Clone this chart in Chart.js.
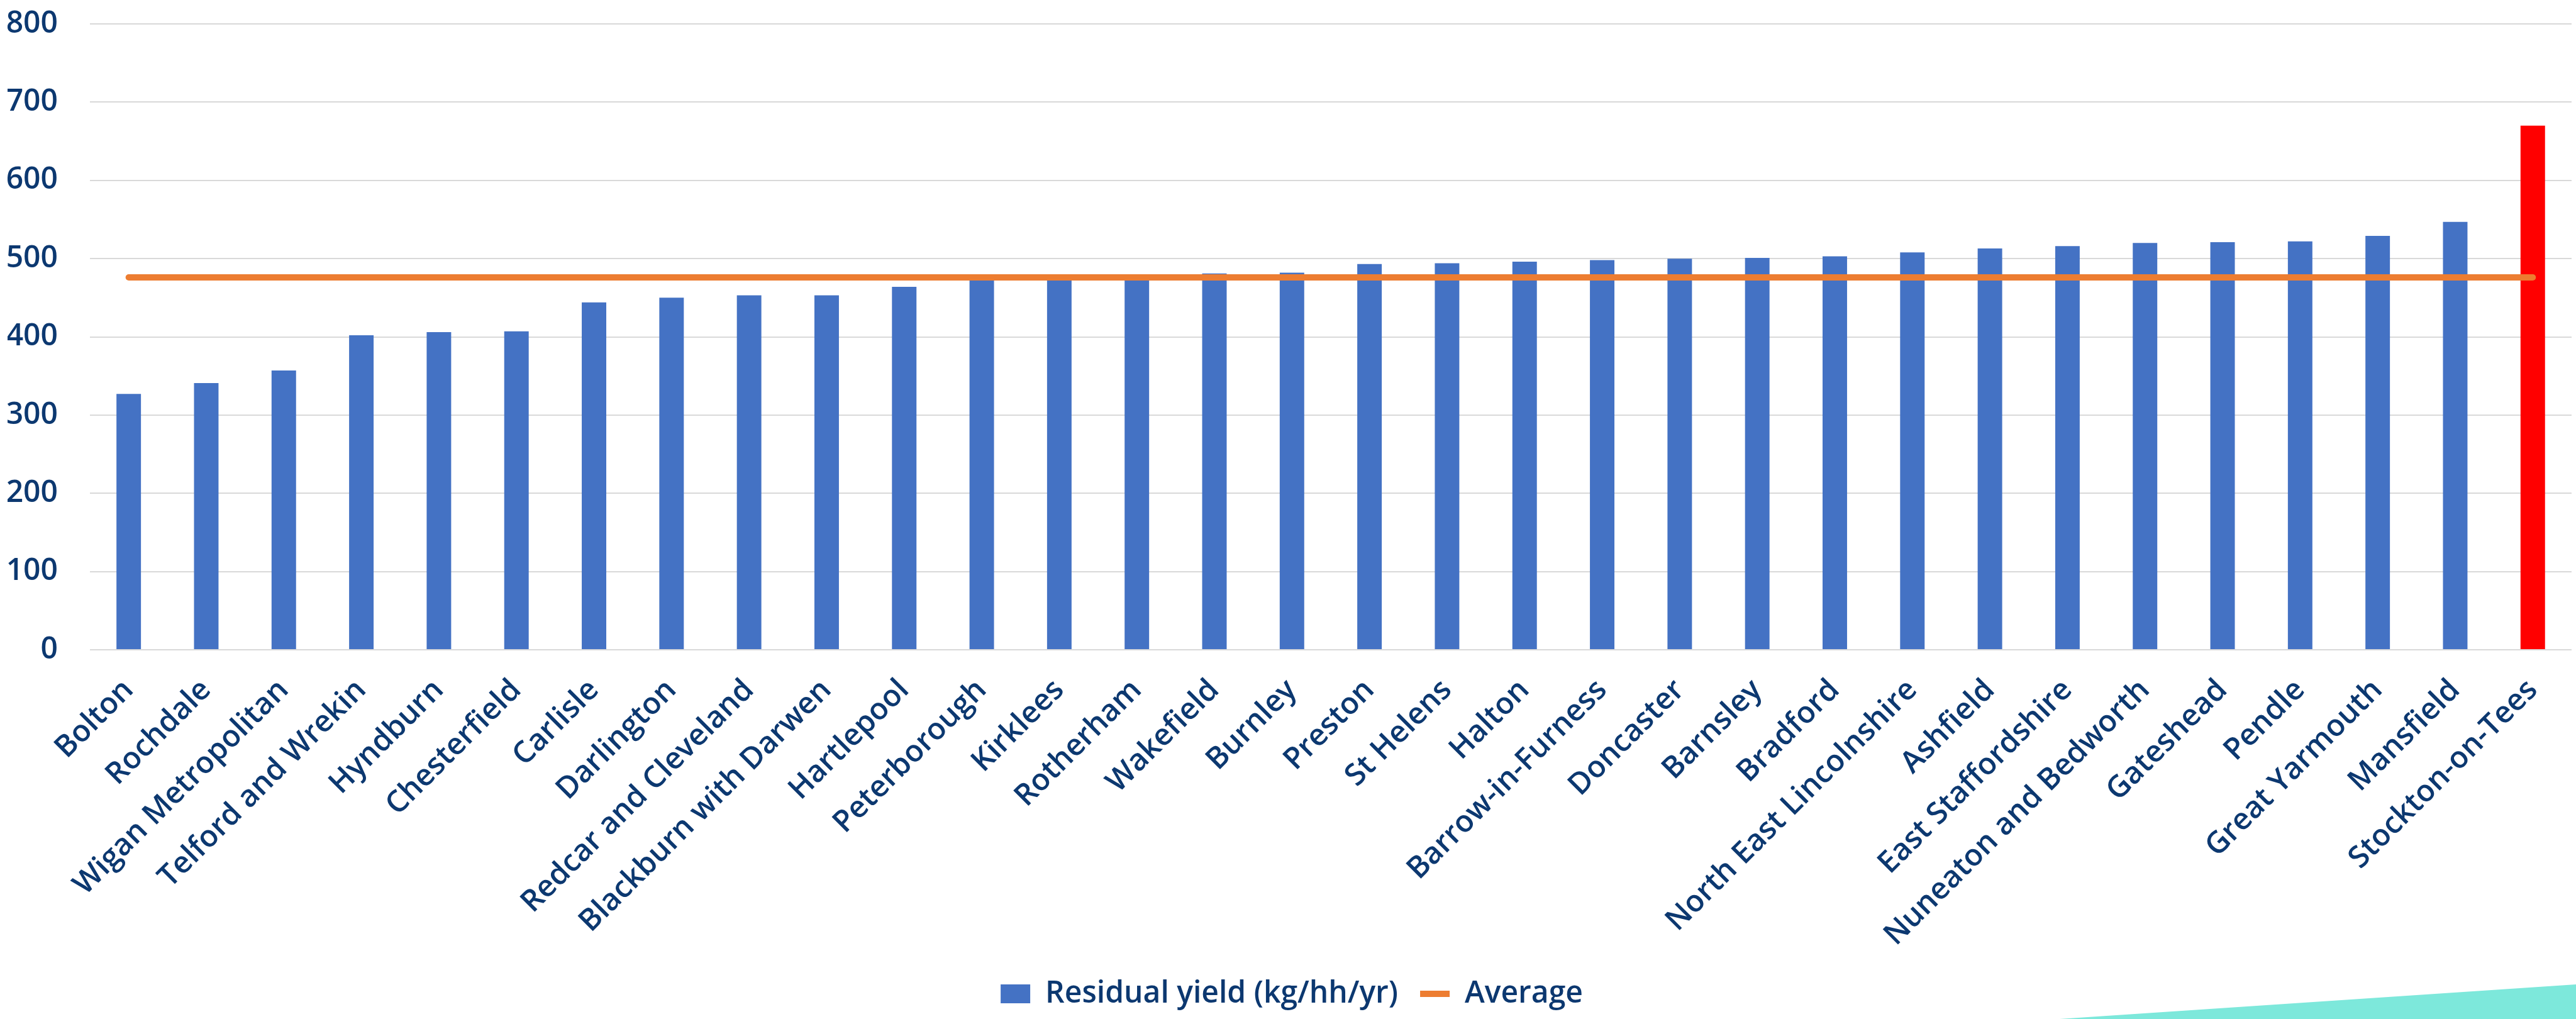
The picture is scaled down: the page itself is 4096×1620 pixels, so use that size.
<!DOCTYPE html>
<html>
<head>
<meta charset="utf-8">
<script src="https://cdn.jsdelivr.net/npm/chart.js@4.4.0/dist/chart.umd.min.js"></script>
<style>
  html, body { margin: 0; padding: 0; background: #fff; overflow: hidden; }
</style>
</head>
<body>
<canvas id="chart" width="4096" height="1620"></canvas>
<script>
// categories, read left to right
const councils = [
  'Bolton', 'Rochdale', 'Wigan Metropolitan', 'Telford and Wrekin', 'Hyndburn',
  'Chesterfield', 'Carlisle', 'Darlington', 'Redcar and Cleveland', 'Blackburn with Darwen',
  'Hartlepool', 'Peterborough', 'Kirklees', 'Rotherham', 'Wakefield', 'Burnley',
  'Preston', 'St Helens', 'Halton', 'Barrow-in-Furness', 'Doncaster', 'Barnsley',
  'Bradford', 'North East Lincolnshire', 'Ashfield', 'East Staffordshire',
  'Nuneaton and Bedworth', 'Gateshead', 'Pendle', 'Great Yarmouth', 'Mansfield',
  'Stockton-on-Tees'
];

// residual yield, kg per household per year
const residualYield = [
  327, 341, 357, 402, 406, 407, 444, 450, 453, 453,
  464, 474, 476, 477, 481, 482, 493, 494, 496, 498,
  500, 501, 503, 508, 513, 516, 520, 521, 522, 529,
  547, 670
];

// average line
const average = [
  476, 476, 476, 476, 476, 476, 476, 476, 476, 476,
  476, 476, 476, 476, 476, 476, 476, 476, 476, 476,
  476, 476, 476, 476, 476, 476, 476, 476, 476, 476,
  476, 476
];

const yTicks = [0, 100, 200, 300, 400, 500, 600, 700, 800];
const highlighted = 'Stockton-on-Tees';

const textColor = '#0c3870';
const labelFont = { family: "'Open Sans', 'Noto Sans', sans-serif", size: 48, weight: '600' };

// teal wedge in the bottom right corner
const cornerWedge = {
  id: 'cornerWedge',
  afterDraw(chart) {
    const { ctx, width, height } = chart;
    ctx.save();
    ctx.fillStyle = '#7de8db';
    ctx.beginPath();
    ctx.moveTo(width - 821, height);
    ctx.lineTo(width, height - 55);
    ctx.lineTo(width, height);
    ctx.closePath();
    ctx.fill();
    ctx.restore();
  }
};

const ctx = document.getElementById('chart').getContext('2d');
new Chart(ctx, {
  data: {
    labels: councils,
    datasets: [
      {
        type: 'bar',
        label: 'Residual yield (kg/hh/yr)',
        data: residualYield,
        backgroundColor: c => councils[c.dataIndex] === highlighted ? '#ff0000' : '#4472c4',
        borderWidth: 0,
        categoryPercentage: 1,
        barPercentage: 0.316,
        pointStyle: 'rect',
        order: 1
      },
      {
        type: 'line',
        label: 'Average',
        data: average,
        borderColor: '#ed7d31',
        backgroundColor: '#ed7d31',
        borderWidth: 10,
        borderCapStyle: 'round',
        pointRadius: 0,
        pointStyle: 'line',
        order: 0
      }
    ]
  },
  options: {
    responsive: false,
    animation: false,
    layout: { padding: { top: 38, left: 12, right: 0, bottom: 6 } },
    plugins: {
      tooltip: { enabled: false },
      legend: {
        position: 'bottom',
        labels: {
          usePointStyle: true,
          pointStyleWidth: 47,
          boxHeight: 30,
          padding: 35,
          color: textColor,
          font: labelFont,
          sort: (a, b) => a.datasetIndex - b.datasetIndex
        }
      }
    },
    scales: {
      x: {
        grid: { display: false },
        border: { display: false },
        ticks: {
          autoSkip: false,
          minRotation: 45,
          maxRotation: 45,
          padding: 28,
          color: textColor,
          font: labelFont
        },
        afterFit: scale => { scale.height = 488; }
      },
      y: {
        min: 0,
        max: 800,
        afterBuildTicks: scale => { scale.ticks = yTicks.map(v => ({ value: v })); },
        // invisible tick marks give the gap between labels and plot
        grid: { color: '#d9d9d9', lineWidth: 2, drawTicks: true, tickLength: 51, tickColor: 'rgba(0,0,0,0)' },
        border: { display: false },
        ticks: {
          padding: 0,
          color: textColor,
          font: labelFont
        },
        afterFit: scale => { scale.width = 131; }
      }
    }
  },
  plugins: [cornerWedge]
});
</script>
</body>
</html>
